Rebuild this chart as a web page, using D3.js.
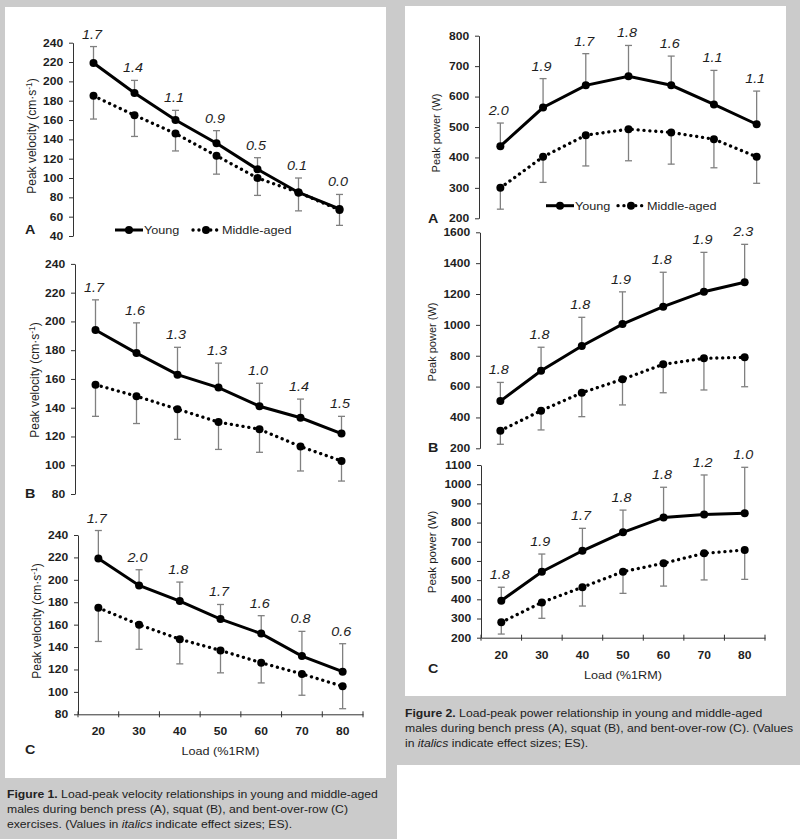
<!DOCTYPE html>
<html lang="en">
<head>
<meta charset="utf-8">
<title>Load-velocity and load-power</title>
<script src="https://cdn.jsdelivr.net/npm/d3@7"></script>
<style>
  body { margin: 0; background: #fff; }
  svg { display: block; font-family: "Liberation Sans", Arial, sans-serif; }
</style>
</head>
<body>
<div id="chart"></div>
<script>
// loads on the x axis (%1RM)
var loads = [20, 30, 40, 50, 60, 70, 80]

// Figure 1 - peak velocity (cm/s), mean and SD
var velBenchYoung = [219, 188, 160, 136, 109, 85, 68]
var velBenchYoungSD = [17, 13, 10, 13, 12, 15, 15]
var velBenchMid = [185, 165, 146, 123, 100, 85, 67]
var velBenchMidSD = [24, 22, 18, 19, 18, 19, 16]
var esVelBench = ["1.7", "1.4", "1.1", "0.9", "0.5", "0.1", "0.0"]

var velSquatYoung = [194, 178, 163, 154, 141, 133, 122]
var velSquatYoungSD = [21, 21, 19, 17, 16, 13, 12]
var velSquatMid = [156, 148, 139, 130, 125, 113, 103]
var velSquatMidSD = [22, 19, 21, 19, 16, 17, 14]
var esVelSquat = ["1.7", "1.6", "1.3", "1.3", "1.0", "1.4", "1.5"]

var velRowYoung = [219, 195, 181, 165, 152, 132, 118]
var velRowYoungSD = [25, 14, 17, 13, 16, 22, 25]
var velRowMid = [175, 160, 147, 137, 126, 116, 105]
var velRowMidSD = [30, 22, 22, 20, 18, 19, 20]
var esVelRow = ["1.7", "2.0", "1.8", "1.7", "1.6", "0.8", "0.6"]

// Figure 2 - peak power (W), mean and SD
var powBenchYoung = [437, 564, 637, 667, 637, 574, 509]
var powBenchYoungSD = [76, 95, 104, 101, 96, 112, 109]
var powBenchMid = [300, 402, 473, 493, 482, 460, 402]
var powBenchMidSD = [70, 84, 101, 104, 104, 94, 87]
var esPowBench = ["2.0", "1.9", "1.7", "1.8", "1.6", "1.1", "1.1"]

var powSquatYoung = [506, 703, 863, 1005, 1118, 1215, 1276]
var powSquatYoungSD = [121, 152, 186, 209, 223, 255, 246]
var powSquatMid = [314, 444, 560, 647, 744, 783, 790]
var powSquatMidSD = [88, 125, 155, 166, 184, 205, 191]
var esPowSquat = ["1.8", "1.8", "1.8", "1.9", "1.8", "1.9", "2.3"]

var powRowYoung = [393, 544, 653, 749, 827, 842, 848]
var powRowYoungSD = [70, 92, 117, 116, 157, 206, 240]
var powRowMid = [280, 384, 463, 544, 588, 640, 657]
var powRowMidSD = [61, 83, 98, 113, 119, 139, 153]
var esPowRow = ["1.8", "1.9", "1.7", "1.8", "1.8", "1.2", "1.0"]

// y tick labels
var velTicksA = [40, 60, 80, 100, 120, 140, 160, 180, 200, 220, 240]
var velTicksBC = [80, 100, 120, 140, 160, 180, 200, 220, 240]
var powTicksA = [200, 300, 400, 500, 600, 700, 800]
var powTicksB = [200, 400, 600, 800, 1000, 1200, 1400, 1600]
var powTicksC = [200, 300, 400, 500, 600, 700, 800, 900, 1000, 1100]

var w = 800
var h = 839
var SX = 1.15   // the scan is a bit wider than tall
var ink = "#1e1e1e"
var grey = "#cbcbcb"

var svg = d3.select("#chart").append("svg")
    .attr("width", w)
    .attr("height", h)

// backgrounds
svg.append("rect").attr("x", 0).attr("y", 0).attr("width", 397).attr("height", h).attr("fill", grey)
svg.append("rect").attr("x", 397).attr("y", 0).attr("width", w - 397).attr("height", 765).attr("fill", grey)
svg.append("rect").attr("x", 5).attr("y", 7).attr("width", 381).attr("height", 771).attr("fill", "#fff")
svg.append("rect").attr("x", 405).attr("y", 6).attr("width", 381).attr("height", 690).attr("fill", "#fff")

function stretch(x, y) {
    return "translate(" + x + "," + y + ") scale(" + SX + ",1) translate(" + (-x) + "," + (-y) + ")"
}

function txt(x, y, s, size, opts) {
    opts = opts || {}
    return svg.append("text")
        .attr("x", x)
        .attr("y", y)
        .attr("transform", stretch(x, y))
        .attr("font-size", size)
        .attr("font-weight", opts.weight || "normal")
        .attr("font-style", opts.style || "normal")
        .attr("text-anchor", opts.anchor || "start")
        .attr("fill", ink)
        .text(s)
}

function drawPanel(p) {
    var x = d3.scaleBand().domain(loads).range(p.xr)
    var y = d3.scaleLinear().domain([p.ticks[0], p.ticks[p.ticks.length - 1]]).range(p.yr)
    var cx = function(d) { return x(d) + x.bandwidth() / 2 }
    var g = svg.append("g")

    // y axis
    var yAxis = d3.axisLeft(y).tickValues(p.ticks).tickFormat(d3.format("d"))
        .tickSize(4).tickSizeOuter(0).tickPadding(4.5)
    var ya = g.append("g")
        .attr("transform", "translate(" + p.xr[0] + ",0)")
        .call(yAxis)
    ya.select(".domain").attr("stroke", "#333")
    ya.selectAll(".tick line").attr("stroke", "#333")
    ya.selectAll(".tick text")
        .attr("font-size", 10.5)
        .attr("font-weight", "bold")
        .attr("font-family", "Liberation Sans, Arial, sans-serif")
        .attr("fill", ink)
        .attr("transform", "scale(" + SX + ",1)")

    // x axis only on the bottom panel
    if (p.xaxis) {
        var xa = g.append("g")
            .attr("transform", "translate(0," + p.yr[0] + ")")
            .call(d3.axisBottom(x).tickSize(0).tickPadding(13.5))
        xa.select(".domain").attr("stroke", "#333")
        xa.selectAll(".tick text")
            .attr("font-size", 10.5)
            .attr("font-weight", "bold")
            .attr("font-family", "Liberation Sans, Arial, sans-serif")
            .attr("fill", ink)
            .attr("transform", "scale(" + SX + ",1)")
        var edges = loads.map(function(d) { return x(d) }).concat([p.xr[1]])
        xa.selectAll(".edge")
            .data(edges)
            .enter()
            .append("line")
            .attr("x1", function(d) { return d })
            .attr("x2", function(d) { return d })
            .attr("y1", -3)
            .attr("y2", 3)
            .attr("stroke", "#333")
        txt((p.xr[0] + p.xr[1]) / 2, p.yr[0] + 41, "Load (%1RM)", 11, { anchor: "middle" })
    }

    // error bars: young up, middle-aged down
    function bars(vals, sds, dir) {
        var eg = g.append("g").attr("stroke", "#808080").attr("stroke-width", 1.3)
        loads.forEach(function(d, i) {
            var y0 = y(vals[i]), y1 = y(vals[i] + dir * sds[i])
            eg.append("line").attr("x1", cx(d)).attr("x2", cx(d)).attr("y1", y0).attr("y2", y1)
            eg.append("line").attr("x1", cx(d) - 3.5).attr("x2", cx(d) + 3.5).attr("y1", y1).attr("y2", y1)
        })
    }
    bars(p.young, p.youngSD, 1)
    bars(p.mid, p.midSD, -1)

    var line = d3.line()
        .x(function(d, i) { return cx(loads[i]) })
        .y(function(d) { return y(d) })

    g.append("path")
        .datum(p.mid)
        .attr("d", line)
        .attr("fill", "none")
        .attr("stroke", "#000")
        .attr("stroke-width", 3.3)
        .attr("stroke-linecap", "round")
        .attr("stroke-dasharray", "0.1 5.8")

    g.append("path")
        .datum(p.young)
        .attr("d", line)
        .attr("fill", "none")
        .attr("stroke", "#000")
        .attr("stroke-width", 3)

    ;[p.mid, p.young].forEach(function(vals) {
        g.append("g").selectAll("circle")
            .data(vals)
            .enter()
            .append("circle")
            .attr("cx", function(d, i) { return cx(loads[i]) })
            .attr("cy", function(d) { return y(d) })
            .attr("r", 4)
            .attr("fill", "#000")
    })

    // effect sizes above the young error bars
    loads.forEach(function(d, i) {
        txt(cx(d) - 1.5, y(p.young[i] + p.youngSD[i]) - 8, p.es[i], 12.5, { style: "italic", anchor: "middle" })
    })

    // y axis title
    var t = svg.append("text")
        .attr("transform", "translate(" + p.yl[0] + "," + p.yl[1] + ") rotate(-90)")
        .attr("text-anchor", "middle")
        .attr("dy", "0.35em")
        .attr("font-size", p.ylSize)
        .attr("fill", ink)
    if (p.velocity) {
        t.append("tspan").text("Peak velocity (cm·s")
        t.append("tspan").attr("font-size", p.ylSize * 0.7).attr("dy", "-0.45em").text("-1")
        t.append("tspan").attr("dy", "0.3em").text(")")
    } else {
        t.text("Peak power (W)")
    }

    txt(p.letter[1], p.letter[2], p.letter[0], 12.5, { weight: "bold" })

    if (p.legend) {
        var lx = p.legend[0], ly = p.legend[1]
        svg.append("line").attr("x1", lx).attr("x2", lx + 28).attr("y1", ly).attr("y2", ly)
            .attr("stroke", "#000").attr("stroke-width", 3)
        svg.append("circle").attr("cx", lx + 14).attr("cy", ly).attr("r", 4).attr("fill", "#000")
        txt(lx + 29, ly + 4, "Young", 11)
        var mx = lx + p.legend[2]
        svg.append("line").attr("x1", mx).attr("x2", mx + 28).attr("y1", ly).attr("y2", ly)
            .attr("stroke", "#000").attr("stroke-width", 3.3)
            .attr("stroke-linecap", "round").attr("stroke-dasharray", "0.1 5.8")
        svg.append("circle").attr("cx", mx + 13).attr("cy", ly).attr("r", 4).attr("fill", "#000")
        txt(mx + 29, ly + 4, "Middle-aged", 11)
    }
}

var panels = [
    { young: velBenchYoung, youngSD: velBenchYoungSD, mid: velBenchMid, midSD: velBenchMidSD, es: esVelBench,
      ticks: velTicksA, xr: [73, 360], yr: [236, 42.7], yl: [32, 136], ylSize: 12, velocity: true,
      letter: ["A", 25, 234], legend: [115, 230, 78] },
    { young: velSquatYoung, youngSD: velSquatYoungSD, mid: velSquatMid, midSD: velSquatMidSD, es: esVelSquat,
      ticks: velTicksBC, xr: [75, 362], yr: [494, 263.9], yl: [35, 380], ylSize: 12, velocity: true,
      letter: ["B", 25, 498] },
    { young: velRowYoung, youngSD: velRowYoungSD, mid: velRowMid, midSD: velRowMidSD, es: esVelRow,
      ticks: velTicksBC, xr: [78, 363], yr: [714.3, 535], yl: [37, 621], ylSize: 12, velocity: true,
      letter: ["C", 25, 754], xaxis: true },
    { young: powBenchYoung, youngSD: powBenchYoungSD, mid: powBenchMid, midSD: powBenchMidSD, es: esPowBench,
      ticks: powTicksA, xr: [479, 778], yr: [218.3, 35.7], yl: [436, 133], ylSize: 11,
      letter: ["A", 428, 222.7], legend: [546, 205.7, 72] },
    { young: powSquatYoung, youngSD: powSquatYoungSD, mid: powSquatMid, midSD: powSquatMidSD, es: esPowSquat,
      ticks: powTicksB, xr: [480, 765], yr: [448.3, 232.3], yl: [432, 342], ylSize: 11,
      letter: ["B", 428, 452] },
    { young: powRowYoung, youngSD: powRowYoungSD, mid: powRowMid, midSD: powRowMidSD, es: esPowRow,
      ticks: powTicksC, xr: [481, 765], yr: [637.7, 465], yl: [432, 552], ylSize: 11.5,
      letter: ["C", 428, 673], xaxis: true }
]
panels.forEach(drawPanel)

// captions
function caption(x, y0, lines) {
    lines.forEach(function(parts, li) {
        var y = y0 + li * 15
        var t = svg.append("text")
            .attr("x", x).attr("y", y)
            .attr("transform", stretch(x, y))
            .attr("font-size", 10.6)
            .attr("fill", "#222")
        parts.forEach(function(pt) {
            t.append("tspan")
                .attr("font-weight", pt[1] == "b" ? "bold" : "normal")
                .attr("font-style", pt[1] == "i" ? "italic" : "normal")
                .text(pt[0])
        })
    })
}
caption(7, 798, [
    [["Figure 1.", "b"], [" Load-peak velocity relationships in young and middle-aged"]],
    [["males during bench press (A), squat (B), and bent-over-row (C)"]],
    [["exercises. (Values in "], ["italics", "i"], [" indicate effect sizes; ES)."]]
])
caption(405, 717.3, [
    [["Figure 2.", "b"], [" Load-peak power relationship in young and middle-aged"]],
    [["males during bench press (A), squat (B), and bent-over-row (C). (Values"]],
    [["in "], ["italics", "i"], [" indicate effect sizes; ES)."]]
])
</script>
</body>
</html>
